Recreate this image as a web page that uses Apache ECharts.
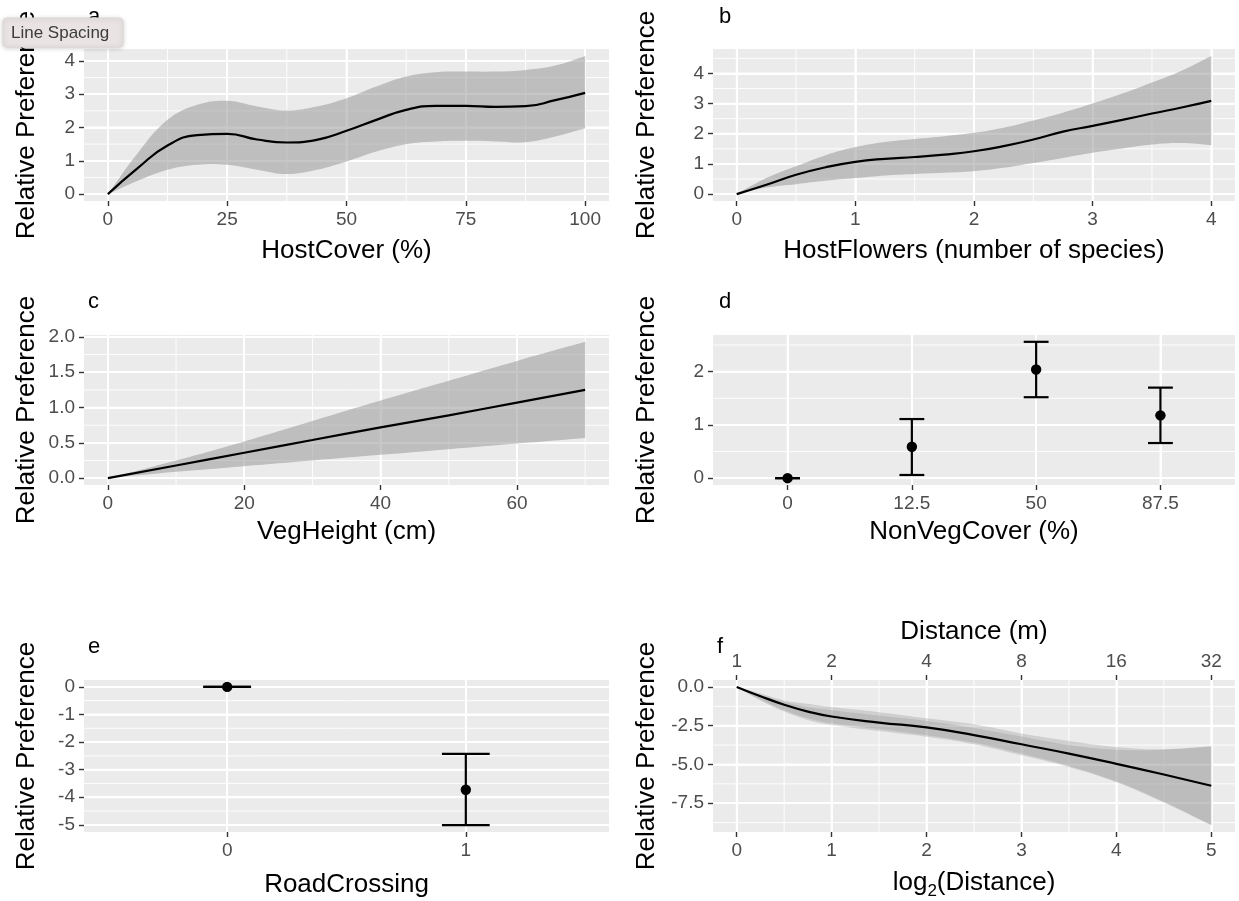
<!DOCTYPE html>
<html>
<head>
<meta charset="utf-8">
<script src="https://cdn.jsdelivr.net/npm/echarts@6/dist/echarts.min.js"></script>
<style>
  html, body { margin: 0; padding: 0; background: #ffffff; }
  #chart { width: 1239px; height: 901px; }
</style>
</head>
<body>
<div id="chart"></div>
<script>
// ---- a: HostCover (%) smooth effect ----
const hostCoverX     = [0, 6.25, 12.5, 18.75, 25, 31.25, 37.5, 43.75, 50, 56.25, 62.5, 68.75, 75, 81.25, 87.5, 93.75, 100];
const hostCoverFit   = [0, 0.78, 1.46, 1.77, 1.81, 1.64, 1.55, 1.63, 1.90, 2.23, 2.53, 2.65, 2.65, 2.62, 2.64, 2.82, 3.04];
const hostCoverUpper = [0, 1.23, 2.23, 2.68, 2.80, 2.63, 2.51, 2.63, 2.88, 3.23, 3.53, 3.66, 3.68, 3.68, 3.73, 3.86, 4.15];
const hostCoverLower = [0, 0.40, 0.73, 0.88, 0.88, 0.73, 0.60, 0.73, 0.98, 1.28, 1.50, 1.58, 1.60, 1.58, 1.56, 1.73, 1.98];

// ---- b: HostFlowers (number of species) ----
const flowersX     = [0, 0.25, 0.5, 0.75, 1, 1.25, 1.5, 1.75, 2, 2.25, 2.5, 2.75, 3, 3.25, 3.5, 3.75, 4];
const flowersFit   = [0, 0.31, 0.64, 0.89, 1.07, 1.17, 1.23, 1.31, 1.42, 1.59, 1.81, 2.07, 2.26, 2.46, 2.67, 2.87, 3.09];
const flowersUpper = [0, 0.53, 0.92, 1.29, 1.56, 1.73, 1.83, 1.92, 2.03, 2.20, 2.44, 2.70, 3.00, 3.33, 3.70, 4.09, 4.58];
const flowersLower = [0, 0.22, 0.33, 0.44, 0.53, 0.62, 0.67, 0.71, 0.76, 0.87, 1.03, 1.20, 1.37, 1.51, 1.64, 1.69, 1.62];

// ---- c: VegHeight (cm) ----
const vegX     = [0, 10, 20, 30, 40, 50, 60, 70];
const vegFit   = [0, 0.18, 0.36, 0.54, 0.72, 0.89, 1.07, 1.25];
const vegUpper = [0, 0.25, 0.52, 0.81, 1.10, 1.38, 1.66, 1.93];
const vegLower = [0, 0.09, 0.17, 0.25, 0.33, 0.41, 0.49, 0.57];

// ---- d: NonVegCover (%) class estimates ----
const nonVegCats = ['0', '12.5', '50', '87.5'];
const nonVegEst  = [0, 0.59, 2.04, 1.18];
const nonVegLow  = [0, 0.06, 1.52, 0.66];
const nonVegHigh = [0, 1.11, 2.56, 1.70];

// ---- e: RoadCrossing ----
const roadCats = ['0', '1'];
const roadEst  = [0, -3.73];
const roadLow  = [0, -5.01];
const roadHigh = [0, -2.43];

// ---- f: log2(Distance) ----
const distX      = [0, 0.25, 0.5, 0.75, 1, 1.5, 2, 2.5, 3, 3.5, 4, 4.5, 5];
const distFit    = [0, -0.60, -1.15, -1.59, -1.91, -2.30, -2.61, -3.11, -3.70, -4.30, -4.96, -5.65, -6.37];
const distUpperA = [0, -0.43, -0.87, -1.09, -1.30, -1.63, -2.02, -2.41, -3.00, -3.48, -3.87, -4.02, -3.83];
const distLowerA = [0, -0.80, -1.50, -2.00, -2.35, -2.72, -3.12, -3.60, -4.30, -5.10, -6.10, -7.40, -8.90];
const distUpperB = [0, -0.50, -0.98, -1.30, -1.50, -1.85, -2.20, -2.65, -3.20, -3.75, -4.05, -4.05, -3.85];
const distLowerB = [0, -0.87, -1.59, -2.13, -2.46, -2.85, -3.22, -3.70, -4.41, -5.17, -6.15, -7.46, -8.91];
const distLabels = ['1', '2', '4', '8', '16', '32'];

// ---- styling ----
const FONT = '"Liberation Sans", Arial, Helvetica, sans-serif';
const PANEL_BG = '#EBEBEB';
const TICK_COLOR = '#333333';
const LABEL_COLOR = '#4D4D4D';
const BAND_FILL = 'rgba(153,153,153,0.55)';
const BAND_FILL_LIGHT = 'rgba(153,153,153,0.34)';
const Y_TITLE = 'Relative Preference';

const COLS = [{ left: 84, width: 525 }, { left: 713, width: 522 }];
const ROWS = [{ top: 49, height: 152 }, { top: 335, height: 150 }, { top: 680, height: 152 }];

// 5% padding on each side of a continuous scale
function padRange(vals) {
  const lo = Math.min(...vals), hi = Math.max(...vals), d = (hi - lo) * 0.05;
  return [lo - d, hi + d];
}
// 0.6 of a step on each side of a discrete scale
function discreteRange(n) { return [0.4, n + 0.6]; }

const option = { animation: false, grid: [], xAxis: [], yAxis: [], series: [], graphic: [] };

function makeAxis(gi, spec, position) {
  const fmt = (v) => {
    const k = spec.ticks.findIndex(t => Math.abs(t - v) < 1e-6);
    return k < 0 ? '' : spec.labels[k];
  };
  return {
    type: 'value', gridIndex: gi, position: position,
    min: spec.range[0], max: spec.range[1],
    axisLine: { show: false, onZero: false },
    splitLine: { show: true, lineStyle: { color: '#ffffff', width: 1.8 } },
    minorSplitLine: { show: false },
    axisTick: { show: true, length: 5, customValues: spec.ticks, lineStyle: { color: TICK_COLOR, width: 1.4 } },
    axisLabel: { show: true, customValues: spec.ticks, formatter: fmt, color: LABEL_COLOR, fontSize: 19, fontFamily: FONT, margin: 9 },
    name: spec.name || '', nameLocation: 'middle', nameGap: spec.nameGap || 0,
    nameTextStyle: Object.assign({ color: '#000', fontSize: 26, fontFamily: FONT }, spec.nameStyle || {})
  };
}

// white panel grid lines at given axis values, drawn as one group per set
function gridLines(gi, dir, values, width, other) {
  return {
    type: 'custom', xAxisIndex: gi, yAxisIndex: gi, silent: true, z: 1, clip: false,
    data: values.map(v => dir === 'x' ? [v, other] : [other, v]),
    renderItem: (params, api) => {
      if (params.dataIndex !== 0) return null;
      const cs = params.coordSys;
      const children = values.map(v => {
        const p = api.coord(dir === 'x' ? [v, other] : [other, v]);
        const shape = dir === 'x'
          ? { x1: p[0], y1: cs.y, x2: p[0], y2: cs.y + cs.height }
          : { x1: cs.x, y1: p[1], x2: cs.x + cs.width, y2: p[1] };
        return { type: 'line', shape: shape, style: { stroke: '#ffffff', lineWidth: width } };
      });
      return { type: 'group', children: children };
    }
  };
}

function addPanel(col, row, xSpec, ySpec) {
  const gi = option.grid.length;
  option.grid.push({
    left: COLS[col].left, width: COLS[col].width, top: ROWS[row].top, height: ROWS[row].height,
    show: true, backgroundColor: PANEL_BG, borderWidth: 0, containLabel: false
  });
  option.xAxis.push(makeAxis(gi, xSpec, 'bottom'));
  option.yAxis.push(makeAxis(gi, ySpec, 'left'));
  const inRange = (r) => (v) => v >= r[0] && v <= r[1];
  const xMid = (xSpec.range[0] + xSpec.range[1]) / 2, yMid = (ySpec.range[0] + ySpec.range[1]) / 2;
  const xMinor = (xSpec.minor || []).filter(inRange(xSpec.range));
  const yMinor = (ySpec.minor || []).filter(inRange(ySpec.range));
  if (xMinor.length) option.series.push(gridLines(gi, 'x', xMinor, 0.9, yMid));
  if (yMinor.length) option.series.push(gridLines(gi, 'y', yMinor, 0.9, xMid));
  option.series.push(gridLines(gi, 'x', xSpec.ticks, 1.8, yMid));
  option.series.push(gridLines(gi, 'y', ySpec.ticks, 1.8, xMid));
  return gi;
}

// confidence band: one filled polygon, upper edge left→right then lower edge back.
// End points are doubled so the smoothing keeps the band's ends square.
function ribbon(gi, xs, lo, hi, fill) {
  return {
    type: 'custom', xAxisIndex: gi, yAxisIndex: gi, silent: true, z: 2, clip: true,
    data: xs.map((x, i) => [x, lo[i], hi[i]]),
    encode: { x: 0, y: [1, 2] },
    renderItem: (params, api) => {
      if (params.dataIndex !== 0) return null;
      const n = xs.length;
      const upper = xs.map((x, i) => api.coord([x, hi[i]]));
      const lowerBack = xs.map((x, i) => api.coord([x, lo[i]])).reverse();
      const pts = [upper[0]].concat(upper, [upper[n - 1]], [lowerBack[0]], lowerBack);
      if (lo[0] === hi[0]) pts.pop();          // band starts at a single point
      else pts.push(lowerBack[n - 1]);
      const x0 = upper[0][0], x1 = upper[n - 1][0];
      return {
        type: 'polygon',
        shape: { points: pts, smooth: 0.4, smoothConstraint: [[x0, -1e5], [x1, 1e5]] },
        style: { fill: fill }
      };
    }
  };
}

function fitLine(gi, xs, ys) {
  return { type: 'line', xAxisIndex: gi, yAxisIndex: gi, data: xs.map((x, i) => [x, ys[i]]),
           smooth: true, symbol: 'none', silent: true, z: 4, lineStyle: { color: '#000', width: 2.2 } };
}

function errorBars(gi, est, low, high) {
  return {
    type: 'custom', xAxisIndex: gi, yAxisIndex: gi, silent: true, z: 4, clip: false,
    data: est.map((m, i) => [i + 1, m, low[i], high[i]]),
    encode: { x: 0, y: [1, 2, 3] },
    renderItem: (params, api) => {
      const x = api.value(0);
      const pm = api.coord([x, api.value(1)]);
      const pl = api.coord([x, api.value(2)]);
      const ph = api.coord([x, api.value(3)]);
      const half = api.size([0.2, 0])[0] / 2;
      const st = { stroke: '#000', lineWidth: 2.2 };
      return { type: 'group', children: [
        { type: 'line', shape: { x1: pl[0], y1: pl[1], x2: ph[0], y2: ph[1] }, style: st },
        { type: 'line', shape: { x1: ph[0] - half, y1: ph[1], x2: ph[0] + half, y2: ph[1] }, style: st },
        { type: 'line', shape: { x1: pl[0] - half, y1: pl[1], x2: pl[0] + half, y2: pl[1] }, style: st },
        { type: 'circle', shape: { cx: pm[0], cy: pm[1], r: 5.2 }, style: { fill: '#000' } }
      ] };
    }
  };
}

const Y_GAP_L = 44, Y_GAP_R = 53;

// a
let g = addPanel(0, 0,
  { range: padRange(hostCoverX), ticks: [0, 25, 50, 75, 100], labels: ['0', '25', '50', '75', '100'],
    minor: [12.5, 37.5, 62.5, 87.5], name: 'HostCover (%)', nameGap: 37 },
  { range: padRange(hostCoverLower.concat(hostCoverUpper)), ticks: [0, 1, 2, 3, 4], labels: ['0', '1', '2', '3', '4'],
    minor: [0.5, 1.5, 2.5, 3.5, 4.5], name: Y_TITLE, nameGap: Y_GAP_L });
option.series.push(ribbon(g, hostCoverX, hostCoverLower, hostCoverUpper, BAND_FILL));
option.series.push(fitLine(g, hostCoverX, hostCoverFit));

// b
g = addPanel(1, 0,
  { range: padRange(flowersX), ticks: [0, 1, 2, 3, 4], labels: ['0', '1', '2', '3', '4'],
    minor: [0.5, 1.5, 2.5, 3.5], name: 'HostFlowers (number of species)', nameGap: 37 },
  { range: padRange(flowersLower.concat(flowersUpper)), ticks: [0, 1, 2, 3, 4], labels: ['0', '1', '2', '3', '4'],
    minor: [0.5, 1.5, 2.5, 3.5, 4.5], name: Y_TITLE, nameGap: Y_GAP_R });
option.series.push(ribbon(g, flowersX, flowersLower, flowersUpper, BAND_FILL));
option.series.push(fitLine(g, flowersX, flowersFit));

// c
g = addPanel(0, 1,
  { range: padRange(vegX), ticks: [0, 20, 40, 60], labels: ['0', '20', '40', '60'],
    minor: [10, 30, 50, 70], name: 'VegHeight (cm)', nameGap: 34 },
  { range: padRange(vegLower.concat(vegUpper)), ticks: [0, 0.5, 1, 1.5, 2], labels: ['0.0', '0.5', '1.0', '1.5', '2.0'],
    minor: [0.25, 0.75, 1.25, 1.75], name: Y_TITLE, nameGap: Y_GAP_L });
option.series.push(ribbon(g, vegX, vegLower, vegUpper, BAND_FILL));
option.series.push(fitLine(g, vegX, vegFit));

// d
g = addPanel(1, 1,
  { range: discreteRange(nonVegCats.length), ticks: nonVegCats.map((c, i) => i + 1), labels: nonVegCats,
    minor: [], name: 'NonVegCover (%)', nameGap: 34 },
  { range: padRange(nonVegLow.concat(nonVegHigh)), ticks: [0, 1, 2], labels: ['0', '1', '2'],
    minor: [0.5, 1.5, 2.5], name: Y_TITLE, nameGap: Y_GAP_R });
option.series.push(errorBars(g, nonVegEst, nonVegLow, nonVegHigh));

// e
g = addPanel(0, 2,
  { range: discreteRange(roadCats.length), ticks: roadCats.map((c, i) => i + 1), labels: roadCats,
    minor: [], name: 'RoadCrossing', nameGap: 40 },
  { range: padRange(roadLow.concat(roadHigh)), ticks: [0, -1, -2, -3, -4, -5], labels: ['0', '-1', '-2', '-3', '-4', '-5'],
    minor: [-0.5, -1.5, -2.5, -3.5, -4.5], name: Y_TITLE, nameGap: Y_GAP_L });
option.series.push(errorBars(g, roadEst, roadLow, roadHigh));

// f
const distRange = padRange(distX);
g = addPanel(1, 2,
  { range: distRange, ticks: [0, 1, 2, 3, 4, 5], labels: ['0', '1', '2', '3', '4', '5'],
    minor: [0.5, 1.5, 2.5, 3.5, 4.5], name: '{t|log}{s|2}{t|(Distance)}', nameGap: 38,
    nameStyle: { rich: {
      t: { fontSize: 26, fontFamily: FONT, color: '#000', lineHeight: 28, verticalAlign: 'top' },
      s: { fontSize: 17, fontFamily: FONT, color: '#000', lineHeight: 17, verticalAlign: 'top', padding: [13, 0, 0, 0] }
    } } },
  { range: padRange(distLowerA.concat(distLowerB, distUpperA, distUpperB)), ticks: [0, -2.5, -5, -7.5],
    labels: ['0.0', '-2.5', '-5.0', '-7.5'], minor: [-1.25, -3.75, -6.25, -8.75], name: Y_TITLE, nameGap: Y_GAP_R });
option.series.push(ribbon(g, distX, distLowerA, distUpperA, BAND_FILL_LIGHT));
option.series.push(ribbon(g, distX, distLowerB, distUpperB, BAND_FILL_LIGHT));
option.series.push(fitLine(g, distX, distFit));
// secondary distance axis (metres) on top of panel f
const topAxis = makeAxis(g, {
  range: distRange, ticks: [0, 1, 2, 3, 4, 5], labels: distLabels, name: 'Distance (m)', nameGap: 35
}, 'top');
topAxis.splitLine = { show: false };
option.xAxis.push(topAxis);

// panel tags
const tags = [['a', 88, 17], ['b', 719, 17], ['c', 88, 302], ['d', 719, 302], ['e', 88, 647], ['f', 717, 647]];
tags.forEach(([t, x, y]) => option.graphic.push({
  type: 'text', x: x, y: y, z: 50,
  style: { text: t, font: '22px ' + FONT, fill: '#000', verticalAlign: 'middle', align: 'left' }
}));

// hover hint box over the top-left corner
option.graphic.push({
  type: 'group', z: 100, children: [
    { type: 'rect', z: 100, shape: { x: 3, y: 18, width: 120, height: 29, r: 4 },
      style: { fill: '#E9E4E3', stroke: '#DCD6D5', lineWidth: 1, shadowBlur: 5, shadowColor: 'rgba(0,0,0,0.18)', shadowOffsetY: 1 } },
    { type: 'text', z: 101, x: 11, y: 33,
      style: { text: 'Line Spacing', font: '17px ' + FONT, fill: '#3C3C3C', verticalAlign: 'middle', align: 'left' } }
  ]
});

const chart = echarts.init(document.getElementById('chart'), null, { renderer: 'canvas' });
chart.setOption(option);
</script>
</body>
</html>
